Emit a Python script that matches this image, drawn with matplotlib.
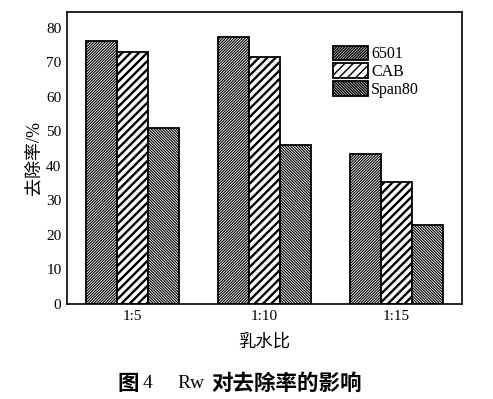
import numpy as np
import matplotlib
matplotlib.use("Agg")
from matplotlib import pyplot as plt

ratios = ["1:5", "1:10", "1:15"]
series = ["6501", "CAB", "Span80"]
v6501 = [76, 77.3, 43.4]
vcab = [73, 71.4, 35.4]
vspan = [50.8, 45.9, 22.9]

plt.rcParams['font.family'] = ['Liberation Serif', 'Noto Sans CJK SC']
cjk = ['Noto Sans CJK SC', 'DejaVu Sans']
mix = ['Liberation Serif', 'Noto Sans CJK SC']

fig = plt.figure(figsize=(4.93, 3.99), dpi=100)
ax = fig.add_axes([0.136, 0.238, 0.801, 0.732])

x = np.arange(1, 4)
w = 0.235
hatches = ['/' * 12, '////', '\\' * 12]
hlw = [0.8, 1.7, 0.8]
for k, (vals, name) in enumerate(zip([v6501, vcab, vspan], series)):
    bars = ax.bar(x + (k - 1) * w, vals, w, color='white', edgecolor='black',
                  linewidth=1.3, hatch=hatches[k], label=name)
    for b in bars:
        if hasattr(b, 'set_hatch_linewidth'):
            b.set_hatch_linewidth(hlw[k])

ax.set_xlim(0.5, 3.5)
ax.set_ylim(0, 84.5)
ax.set_yticks(range(0, 81, 10))
ax.set_xticks(x)
ax.set_xticklabels(ratios)
ax.tick_params(length=0, labelsize=11, pad=4)
for s in ax.spines.values():
    s.set_linewidth(1.2)

ax.set_xlabel("乳水比", family=mix, fontsize=12.5, labelpad=8)
ax.set_ylabel("去除率/%", family=mix, fontsize=13, labelpad=3)

leg = ax.legend(loc='upper left', bbox_to_anchor=(0.673, 0.885), frameon=False,
                fontsize=11.5, handlelength=2.2, handleheight=1.05,
                labelspacing=0.05, borderpad=0, borderaxespad=0, handletextpad=0.2)

# caption pieces
cy = 1 - 383 / 399
fig.text(117 / 493, cy, "图", family=cjk, fontsize=15.5, fontweight='bold', va='center')
fig.text(143 / 493, cy, "4", family='Liberation Serif', fontsize=14, va='center')
fig.text(177 / 493, cy, "Rw", family='Liberation Serif', fontsize=14, va='center')
fig.text(211 / 493, cy, "对去除率的影响", family=cjk, fontsize=15.5,
         fontweight='bold', va='center')

fig.savefig("out.png", dpi=100)
